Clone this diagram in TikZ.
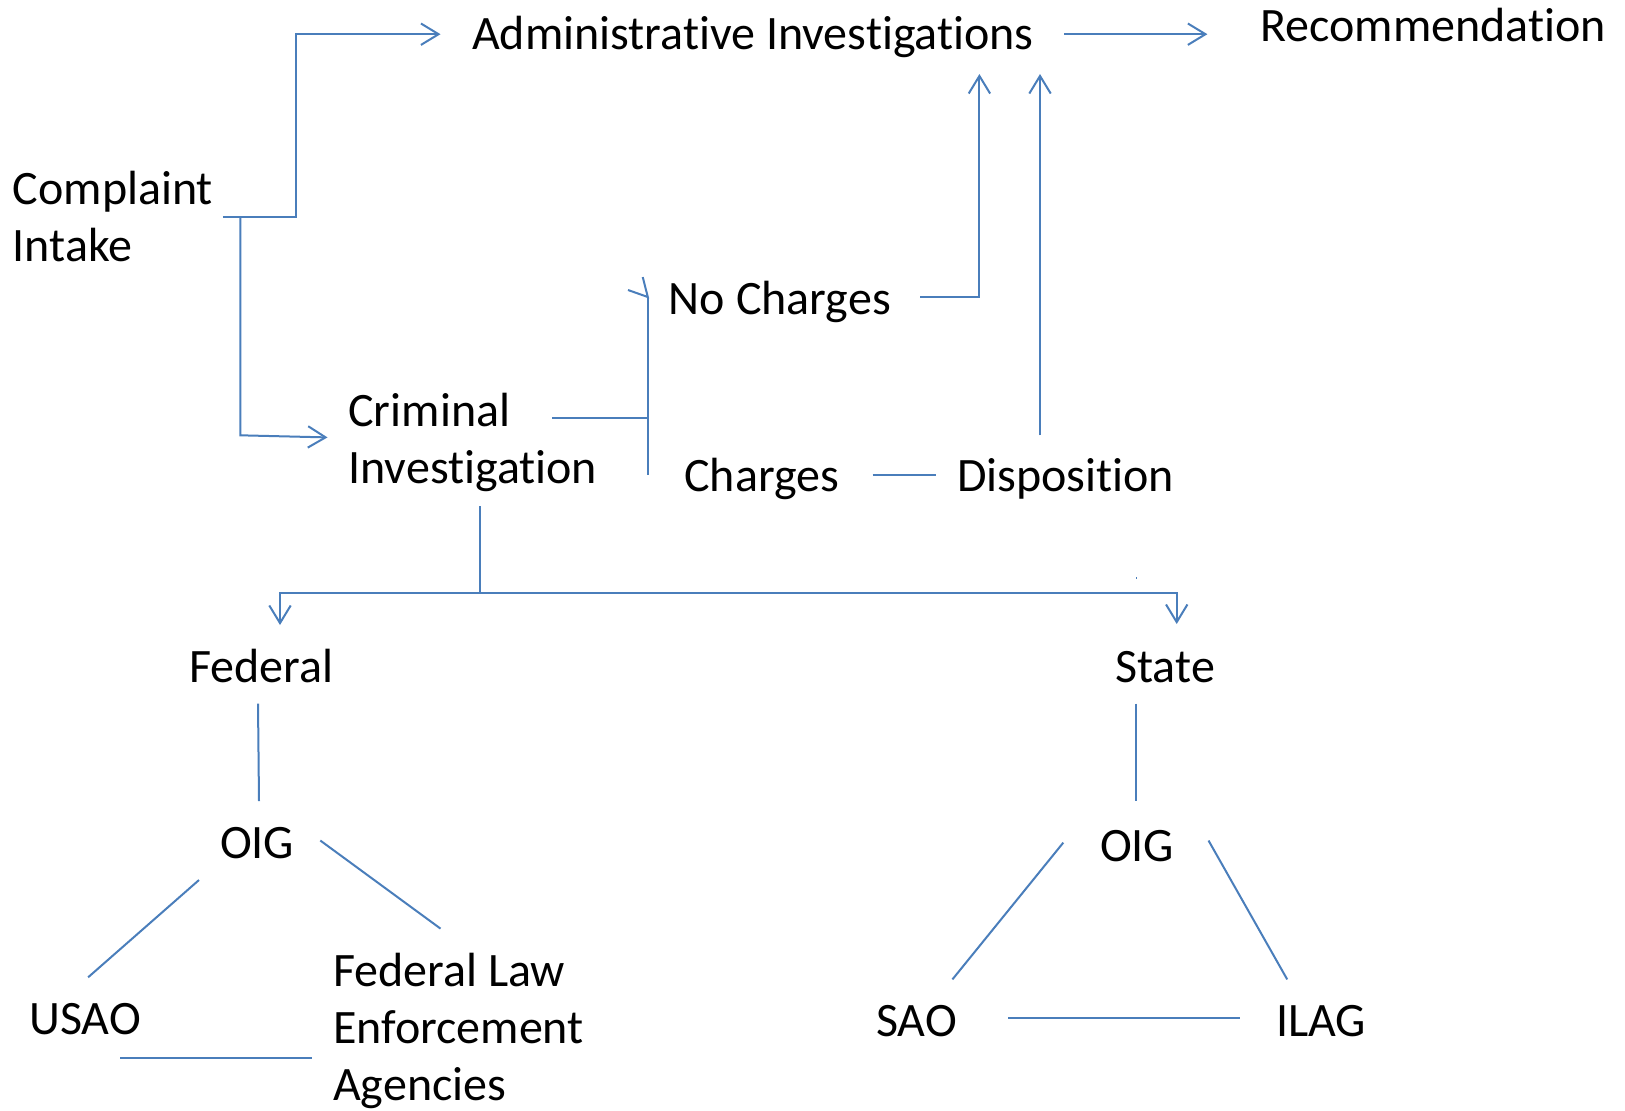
\documentclass[tikz,border=0pt]{standalone}
\usepackage{fontspec}
\setmainfont{Carlito}[Ligatures=NoCommon]
\usetikzlibrary{arrows.meta}
\definecolor{lineblue}{RGB}{74,126,187}

\begin{document}
\begin{tikzpicture}[x=0.5pt,y=-0.5pt,
        ln/.style={lineblue, line width=1pt},
        arr/.style={ln, -{Straight Barb[length=8.8pt,width=10.7pt]}},
        lbl/.style={anchor=base west, inner sep=0pt, align=left, font=\fontsize{24}{28.5}\selectfont}]
            \useasboundingbox (0,0) rectangle (1625,1110);
            % labels (base = last line)
            \node[lbl] (intake) at (12.4,261) {Complaint\\Intake};
            \node[lbl] (admin) at (471.6,49.7) {Administrative Investigations};
            \node[lbl] (recom) at (1260,41.5) {Recommendation};
            \node[lbl] (crim) at (348,483) {Criminal\\Investigation};
            \node[lbl] (nocharges) at (668.5,314) {No Charges};
            \node[lbl] (charges) at (684,491) {Charges};
            \node[lbl] (dispo) at (956.6,491) {Disposition};
            \node[lbl] (federal) at (188.6,682) {Federal};
            \node[lbl] (state) at (1115,682) {State};
            \node[lbl] (foig) at (219.7,858) {OIG};
            \node[lbl] (soig) at (1099.6,861) {OIG};
            \node[lbl] (usao) at (29,1034) {USAO};
            \node[lbl] (flea) at (332.7,1100.7) {Federal Law\\Enforcement\\Agencies};
            \node[lbl] (sao) at (875.8,1036.4) {SAO};
            \node[lbl] (ilag) at (1275.8,1036.4) {ILAG};
            % connector ends
            \coordinate (intake-out) at (222.8,216.6);
            \coordinate (intake-split) at (240.4,216.6);
            \coordinate (admin-in) at (440.5,34.2);
            \coordinate (crim-in) at (327.5,437.4);
            \coordinate (admin-out) at (1064.4,34.2);
            \coordinate (recom-in) at (1207.4,34.2);
            \coordinate (crim-out) at (552.4,418);
            \coordinate (bracket-top) at (647.8,297);
            \coordinate (bracket-bot) at (647.8,475);
            \coordinate (nocharges-out) at (920.3,297.4);
            \coordinate (nocharges-up) at (979.4,74);
            \coordinate (dispo-out) at (1040,435.3);
            \coordinate (dispo-up) at (1040,74);
            \coordinate (charges-out) at (872.7,474.7);
            \coordinate (dispo-in) at (935.9,474.7);
            \coordinate (crim-down) at (480,506);
            \coordinate (crim-split) at (480,593.3);
            \coordinate (federal-in) at (280,625);
            \coordinate (state-in) at (1176.7,624);
            \coordinate (federal-out) at (258,703.7);
            \coordinate (foig-in) at (259,801.1);
            \coordinate (state-out) at (1136,703.7);
            \coordinate (soig-in) at (1136,801.1);
            % flow
            \draw[arr] (intake-out) -| (296.4,34.2) -- (admin-in);
            \draw[arr] (intake-split) |- (240.4,435.3) -- (crim-in);
            \draw[arr] (admin-out) -- (recom-in);
            \draw[ln] (crim-out) -- (bracket-top |- crim-out);
            \draw[ln] (bracket-top) -- (bracket-bot);
            \draw[ln] (628,290) -- (bracket-top) -- (642.7,277);
            \draw[arr] (nocharges-out) -| (nocharges-up);
            \draw[arr] (dispo-out) -- (dispo-up);
            \draw[ln] (charges-out) -- (dispo-in);
            \draw[ln] (crim-down) -- (crim-split);
            \draw[arr] (crim-split) -| (federal-in);
            \draw[arr] (crim-split) -| (state-in);
            \fill[lineblue] (1136.2,576.5) rectangle (1137.4,579);
            % federal side
            \draw[ln] (federal-out) -- (foig-in);
            \draw[ln] (199,880) -- (88.1,977.3);
            \draw[ln] (320.3,840.5) -- (440.5,928.6);
            \draw[ln] (120.2,1058.2) -- (312,1058.2);
            % state side
            \draw[ln] (state-out) -- (soig-in);
            \draw[ln] (1063.3,842.6) -- (952.4,979.4);
            \draw[ln] (1208.5,840.5) -- (1287.2,979.4);
            \draw[ln] (1008.4,1017.7) -- (1239.5,1017.7);
\end{tikzpicture}
\end{document}
